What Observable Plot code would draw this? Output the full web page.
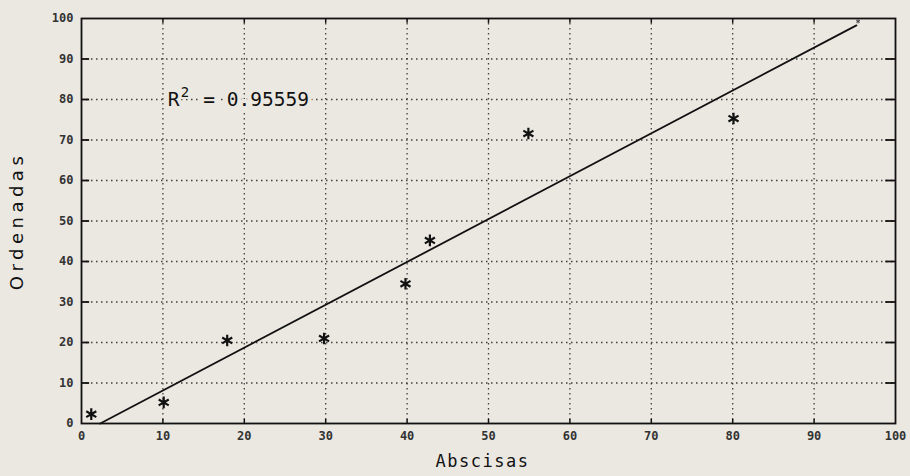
<!DOCTYPE html>
<html>
<head>
<meta charset="utf-8">
<script src="https://cdn.jsdelivr.net/npm/d3@7"></script>
<script src="https://cdn.jsdelivr.net/npm/@observablehq/plot@0.6"></script>
<style>
  html, body { margin: 0; padding: 0; background: #ebe8e2; }
  #chart svg { display: block; }
</style>
</head>
<body>
<div id="chart"></div>
<script>
const pointX = [1.2, 10.1, 17.9, 29.8, 39.8, 42.8, 54.9, 80.1];
const pointY = [2.3, 5.2, 20.5, 21.0, 34.5, 45.2, 71.6, 75.3];
const fitX = [2.3, 95.2];
const fitY = [0, 98.3];
const endMarkX = [95.4];
const endMarkY = [99.3];
const xTicks = [0, 10, 20, 30, 40, 50, 60, 70, 80, 90, 100];
const yTicks = [0, 10, 20, 30, 40, 50, 60, 70, 80, 90, 100];
const annotationR = "R";
const annotationSup = "2";
const annotationValue = "= 0.95559";
const xLabel = "Abscisas";
const yLabel = "Ordenadas";

const points = pointX.map((x, i) => ({x, y: pointY[i]}));
const fit = fitX.map((x, i) => ({x, y: fitY[i]}));
const endMark = endMarkX.map((x, i) => ({x, y: endMarkY[i]}));
const innerX = xTicks.slice(1, -1);
const innerY = yTicks.slice(1, -1);

const mono = "'DejaVu Sans Mono', 'Liberation Mono', monospace";
const sans = "'DejaVu Sans', 'Noto Sans', sans-serif";
const bg = "#ebe8e2";
const halo = { stroke: bg, strokeWidth: 8, paintOrder: "stroke" };

const plot = Plot.plot({
  width: 910,
  height: 476,
  marginLeft: 81,
  marginRight: 15,
  marginTop: 18,
  marginBottom: 53,
  style: { background: "transparent", fontFamily: mono, fontSize: "12px", color: "#222" },
  x: { domain: [0, 100], ticks: xTicks, label: null },
  y: { domain: [0, 100], ticks: yTicks, label: null },
  marks: [
    Plot.ruleX(innerX, { x: d => d, stroke: "#222", strokeOpacity: 0.85, strokeDasharray: "1.5,3.5", strokeWidth: 1.3 }),
    Plot.ruleY(innerY, { y: d => d, stroke: "#222", strokeOpacity: 0.85, strokeDasharray: "1.5,3.5", strokeWidth: 1.3 }),
    Plot.frame({ stroke: "#111", strokeWidth: 1.8 }),
    Plot.axisX({ ticks: xTicks, tickSize: 0, tickPadding: 8, fontSize: 12, fontWeight: "bold", fill: "#333", label: null }),
    Plot.axisY({ ticks: yTicks, tickSize: 0, tickPadding: 8, fontSize: 12, fontWeight: "bold", fill: "#333", label: null }),
    Plot.ruleY(innerY, { x1: 98.8, x2: 100, y: d => d, stroke: "#111", strokeWidth: 1.8 }),
    Plot.ruleY(innerY, { x1: 0, x2: 1.0, y: d => d, stroke: "#111", strokeWidth: 1.8 }),
    Plot.ruleX(innerX, { y1: 98.8, y2: 100, x: d => d, stroke: "#111", strokeWidth: 1.5 }),
    Plot.ruleX(innerX, { y1: 0, y2: 1.0, x: d => d, stroke: "#111", strokeWidth: 1.5 }),
    Plot.line(fit, { x: "x", y: "y", stroke: "#111", strokeWidth: 1.8 }),
    Plot.dot(points, { x: "x", y: "y", symbol: "asterisk", r: 5.5, stroke: "#111", strokeWidth: 2.2 }),
    Plot.dot(endMark, { x: "x", y: "y", symbol: "asterisk", r: 2, stroke: "#444", strokeWidth: 1 }),
    Plot.text([annotationR], { x: 10.6, y: 80, text: d => d, textAnchor: "start", fontSize: 19.5, fill: "#111", ...halo, fontFamily: mono }),
    Plot.text([annotationSup], { x: 10.6, y: 80, dx: 13, dy: -7, text: d => d, textAnchor: "start", fontSize: 14, fill: "#111", ...halo, strokeWidth: 4, fontFamily: mono }),
    Plot.text([annotationValue], { x: 10.6, y: 80, dx: 35.5, text: d => d, textAnchor: "start", fontSize: 19.5, fill: "#111", ...halo, fontFamily: mono }),
    Plot.text([xLabel], { frameAnchor: "bottom", dx: -6, dy: 43, text: d => d, fontSize: 17, fill: "#111", fontFamily: mono }),
    Plot.text([yLabel], { frameAnchor: "left", dx: -64, rotate: -90, textAnchor: "middle", text: d => d, fontSize: 18, fill: "#111", fontFamily: sans })
  ]
});
d3.select(plot).selectAll("text").filter(function () { return this.textContent === yLabel; }).attr("letter-spacing", "4.5px");
d3.select(plot).selectAll("text").filter(function () { return this.textContent === xLabel; }).attr("letter-spacing", "1.5px");
document.getElementById("chart").appendChild(plot);
</script>
</body>
</html>
